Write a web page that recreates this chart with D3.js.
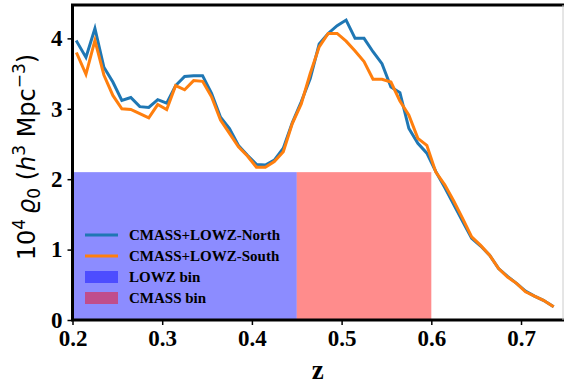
<!DOCTYPE html>
<html><head><meta charset="utf-8">
<script src="https://cdn.jsdelivr.net/npm/d3@7"></script>
<style>body{margin:0;background:#fff}svg{display:block}</style>
</head><body><svg id="c" width="564" height="385"></svg>
<script>
const zValues = [0.205,0.215,0.225,0.235,0.245,0.255,0.265,0.275,0.285,0.295,0.305,0.315,0.325,0.335,0.345,0.355,0.365,0.375,0.385,0.395,0.405,0.415,0.425,0.435,0.445,0.455,0.465,0.475,0.485,0.495,0.505,0.515,0.525,0.535,0.545,0.555,0.565,0.575,0.585,0.595,0.605,0.615,0.625,0.635,0.645,0.655,0.665,0.675,0.685,0.695,0.705,0.715,0.725,0.735];
const northValues = [3.95,3.73,4.14,3.59,3.38,3.12,3.16,3.03,3.02,3.13,3.08,3.33,3.46,3.47,3.47,3.22,2.88,2.72,2.48,2.34,2.21,2.20,2.27,2.44,2.80,3.10,3.43,3.92,4.07,4.18,4.26,4.00,4.00,3.81,3.64,3.31,3.23,2.72,2.51,2.37,2.11,1.88,1.64,1.40,1.16,1.05,0.92,0.73,0.62,0.52,0.41,0.34,0.28,0.20];
const southValues = [3.78,3.49,3.97,3.48,3.19,3.00,2.99,2.93,2.87,3.06,2.99,3.33,3.27,3.40,3.39,3.17,2.84,2.65,2.46,2.33,2.17,2.17,2.25,2.39,2.79,3.07,3.50,3.88,4.07,4.07,3.96,3.82,3.67,3.42,3.42,3.38,3.11,2.91,2.58,2.48,2.10,1.92,1.69,1.44,1.18,1.06,0.92,0.73,0.61,0.52,0.40,0.34,0.28,0.20];
const seriesNames = ["CMASS+LOWZ-North","CMASS+LOWZ-South"];
const seriesColors = ["#1f77b4","#ff7f0e"];
const binNames = ["LOWZ bin","CMASS bin"];
const binRanges = [[0.2,0.45],[0.45,0.6]];
const binHeight = 2.1;
const binColors = ["#0000ff","#ff0000"];
const xTicks = [0.2,0.3,0.4,0.5,0.6,0.7];
const yTicks = [0,1,2,3,4];

const svg = d3.select("#c");
const L=72.5, R=563, T=5, B=320;
const x = d3.scaleLinear().domain([0.2,0.7468]).range([L,R]);
const y = d3.scaleLinear().domain([0,4.474]).range([B,T]);
const serif = "'Liberation Serif','Times New Roman',serif";

// bins
const bandOpacity = 0.45;
svg.append("g").selectAll("rect").data(binRanges).join("rect")
  .attr("x", d=>x(d[0])).attr("width", d=>x(d[1])-x(d[0]))
  .attr("y", y(binHeight)).attr("height", y(0)-y(binHeight))
  .attr("fill", (d,i)=>binColors[i]).attr("fill-opacity", bandOpacity);

// lines
const series = [northValues, southValues];
const line = d3.line().x((d,i)=>x(zValues[i])).y(d=>y(d));
series.forEach((s,i)=>{
  svg.append("path").datum(s).attr("d", line)
    .attr("fill","none").attr("stroke", seriesColors[i]).attr("stroke-width",3)
    .attr("stroke-linejoin","miter").attr("stroke-linecap","square");
});

// axes
const xAxis = svg.append("g").attr("transform",`translate(0,${B})`)
  .call(d3.axisBottom(x).tickValues(xTicks).tickFormat(d3.format(".1f")).tickSize(5).tickPadding(5));
const yAxis = svg.append("g").attr("transform",`translate(${L},0)`)
  .call(d3.axisLeft(y).tickValues(yTicks).tickFormat(d3.format("d")).tickSize(5).tickPadding(5));
[xAxis,yAxis].forEach(a=>{
  a.select(".domain").remove();
  a.selectAll(".tick line").attr("stroke","#000").attr("stroke-width",1.5);
  a.selectAll(".tick text").attr("font-family",serif).attr("font-weight","bold").attr("font-size",23).attr("fill","#000");
});
// spines
svg.append("line").attr("x1",L).attr("x2",L).attr("y1",T).attr("y2",B).attr("stroke","#000").attr("stroke-width",3);
svg.append("line").attr("x1",L-1.5).attr("x2",R+2).attr("y1",B).attr("y2",B).attr("stroke","#000").attr("stroke-width",3);
svg.append("line").attr("x1",L-1.5).attr("x2",R+2).attr("y1",T).attr("y2",T).attr("stroke","#000").attr("stroke-width",3);
svg.append("line").attr("x1",R).attr("x2",R).attr("y1",T).attr("y2",B).attr("stroke","#ccc").attr("stroke-width",1);

// x label
svg.append("text").attr("x",(L+R)/2).attr("y",379).attr("text-anchor","middle")
  .attr("font-family",serif).attr("font-weight","bold").attr("font-size",27).text("z");

// y label
const yl = svg.append("text").attr("transform","translate(35,157) rotate(-90)")
  .attr("text-anchor","middle").attr("font-family","'DejaVu Sans',sans-serif").attr("font-size",24).attr("fill","#000");
yl.append("tspan").text("10");
yl.append("tspan").attr("dy",-10).attr("font-size",17).text("4");
yl.append("tspan").attr("dy",10).text("\u2009");
yl.append("tspan").attr("font-style","italic").text("\u03f1");
yl.append("tspan").attr("dy",5).attr("font-size",17).text("0");
yl.append("tspan").attr("dy",-5).text(" (");
yl.append("tspan").attr("font-style","italic").text("h");
yl.append("tspan").attr("dy",-10).attr("font-size",17).text("3");
yl.append("tspan").attr("dy",10).text(" Mpc");
yl.append("tspan").attr("dy",-10).attr("font-size",17).text("\u22123");
yl.append("tspan").attr("dy",10).text(")");

// legend
const lg = svg.append("g");
const rowY = [235,256,277,298];
seriesNames.forEach((n,i)=>{
  lg.append("line").attr("x1",85).attr("x2",118).attr("y1",rowY[i]).attr("y2",rowY[i])
    .attr("stroke",seriesColors[i]).attr("stroke-width",3);
});
binNames.forEach((n,i)=>{
  lg.append("rect").attr("x",85).attr("width",33).attr("y",rowY[i+2]-6).attr("height",12)
    .attr("fill",binColors[i]).attr("fill-opacity",bandOpacity);
});
[...seriesNames,...binNames].forEach((n,i)=>{
  lg.append("text").attr("x",129).attr("y",rowY[i]+5).attr("font-family",serif)
    .attr("font-weight","bold").attr("font-size",15).attr("fill","#000").text(n);
});
</script></body></html>
